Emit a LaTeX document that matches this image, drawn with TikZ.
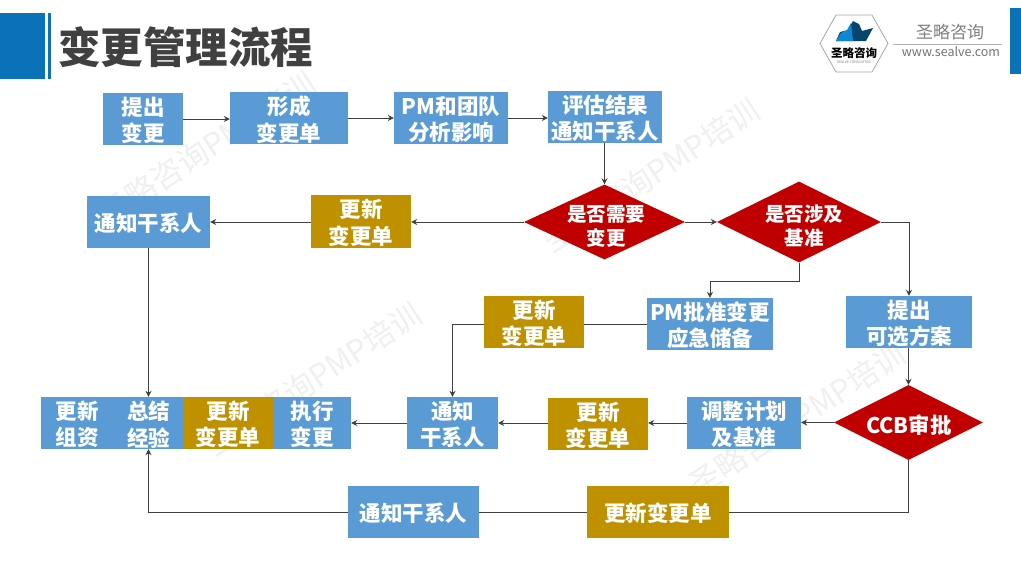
\documentclass[tikz,border=0pt]{standalone}
\usepackage{fontspec}
\setmainfont{Noto Sans CJK SC}
\usetikzlibrary{shapes.geometric,arrows.meta,calc}
\definecolor{bluebox}{HTML}{5B9BD5}
\definecolor{goldbox}{HTML}{BF9000}
\definecolor{redbox}{HTML}{C00000}
\definecolor{headblue}{HTML}{0A73B8}
\definecolor{linegray}{HTML}{404040}
\definecolor{wm}{HTML}{F0F0F0}
\tikzset{
  x=1pt,y=-1pt,
  tx/.style={font=\fontsize{21.5}{26.5}\selectfont\bfseries,text=white,align=center,inner sep=0pt},
  dtx/.style={tx,font=\fontsize{19.5}{24}\selectfont\bfseries},
  bx/.style={rectangle,anchor=center,inner sep=0pt},
  bluebx/.style={bx,fill=bluebox},
  goldbx/.style={bx,fill=goldbox},
  dm/.style={diamond,fill=redbox,inner sep=0pt,anchor=center},
  cn/.style={draw=linegray,line width=0.9pt},
  ar/.style={cn,-{Stealth[length=6pt,width=6pt]}},
  wmk/.style={font=\fontsize{31}{31}\selectfont,text=wm,rotate=33,inner sep=0pt},
}
% the text sits a little below the box centre, as in the reference
\newcommand{\boxat}[7]{% style, name, x0,y0,x1,y1, text
  \node[#1,minimum width=#5pt-#3pt,minimum height=#6pt-#4pt,label={[tx,name=#2t,yshift=-1.5pt]center:{#7}}] (#2) at ({(#3+#5)/2},{(#4+#6)/2}) {};}
\begin{document}
\begin{tikzpicture}
\useasboundingbox (0,0) rectangle (1021,574);
\fill[white] (0,0) rectangle (1021,574);
% watermarks
\node[wmk] (w1) at (207,148) {圣略咨询PMP培训};
\node[wmk] (w2) at (651,175) {圣略咨询PMP培训};
\node[wmk] (w3) at (313,379) {圣略咨询PMP培训};
\node[wmk] (w4) at (797,419) {圣略咨询PMP培训};
% header
\fill[headblue] (0,13) rectangle (45,79);
\fill[headblue] (48,13) rectangle (50.5,79);
\fill[headblue] (1010,8) rectangle (1021,74);
\node[font=\fontsize{42.5}{44}\selectfont\bfseries,text=linegray,inner sep=0pt,anchor=west] (title) at (58,47) {变更管理流程};
% logo
\draw[draw=gray!70,line width=0.8pt,fill=white] (820,43.5) -- (836,15) -- (872,15) -- (888,43.5) -- (872,72) -- (836,72) -- cycle;
\fill[headblue!60!black] (836,41) -- (866,41) -- (873,28) -- (862,31) -- (859,24) -- (853,21) -- (848,30) -- (840,32) -- cycle;
\fill[cyan!70!blue] (836,41) -- (853,41) -- (851,23) -- (847,30) -- (841,33) -- cycle;
\node[font=\fontsize{11.5}{12}\selectfont\bfseries,inner sep=0pt,text=black] (logoa) at (854,53) {圣略咨询};
\node[font=\fontsize{3.5}{4}\selectfont,inner sep=0pt,text=gray] (logob) at (854,62) {SEALVE CONSULTING};
\node[font=\fontsize{17}{18}\selectfont,text=gray,inner sep=0pt] (lg1) at (950,32) {圣略咨询};
\draw[draw=gray!60,line width=0.5pt] (893,44) -- (1002,44);
\node[font=\fontsize{12.5}{14}\selectfont,text=gray!90!black,inner sep=0pt] (lg2) at (951,52) {www.sealve.com};
% top row
\boxat{bluebx}{a1}{103}{93}{183}{145}{提出\\变更}
\boxat{bluebx}{a2}{230}{92}{348}{144}{形成\\变更单}
\boxat{bluebx}{a3}{394}{92}{508}{144}{PM和团队\\分析影响}
\boxat{bluebx}{a4}{548}{91}{662}{143}{评估结果\\通知干系人}
% second row
\node[dm,minimum width=161pt,minimum height=75pt] (d1) at (604.5,222) {};
\node[dtx] (d1t) at (606,226) {是否需要\\变更};
\node[dm,minimum width=164pt,minimum height=81pt] (d2) at (799,222) {};
\node[dtx] (d2t) at (804,226) {是否涉及\\基准};
\boxat{goldbx}{b2}{311}{195}{411}{248}{更新\\变更单}
\boxat{bluebx}{b1}{87}{196}{210}{248}{通知干系人}
% third row
\boxat{bluebx}{c1}{846}{296}{972}{348}{提出\\可选方案}
\boxat{bluebx}{c2}{647}{298}{773}{350}{PM批准变更\\应急储备}
\boxat{goldbx}{c3}{484}{296}{584}{348}{更新\\变更单}
% fourth row
\node[dm,minimum width=149pt,minimum height=75pt] (d3) at (908.5,422.5) {};
\node[tx] (d3t) at (909,425) {CCB审批};
\boxat{bluebx}{e1}{687}{397}{801}{449}{调整计划\\及基准}
\boxat{goldbx}{e2}{548}{398}{648}{450}{更新\\变更单}
\boxat{bluebx}{e3}{407}{397}{498}{449}{通知\\干系人}
\boxat{bluebx}{e4}{273}{397}{351}{449}{执行\\变更}
\boxat{bluebx}{e6}{113}{397}{184}{449}{总结\\经验}
\boxat{goldbx}{e5}{183}{397}{273}{449}{更新\\变更单}
\boxat{bluebx}{e7}{41}{397}{113.5}{449}{更新\\组资}
% bottom row
\boxat{bluebx}{f1}{348}{486}{479}{538}{通知干系人}
\boxat{goldbx}{f2}{587}{486}{729}{538}{更新变更单}
% connectors
\coordinate (c3w) at ($(c3.west)+(0,2)$);
\coordinate (c3e) at ($(c3.east)+(0,2)$);
\draw[ar] (a1.east) -- (a1.east -| a2.west);
\draw[ar] (a2.east) -- (a2.east -| a3.west);
\draw[ar] (a3.east) -- (a3.east -| a4.west);
\draw[ar] (a4.south -| d1) -- (d1.north);
\draw[ar] (d1.east) -- (d2.west);
\draw[ar] (d1.west) -- (b2.east |- d1.west);
\draw[ar] (b2.west |- b1.east) -- (b1.east);
\draw[ar] (b1.south) -- (b1.south |- e6.north);
\draw[ar] (d2.east) -| (c1.north);
\draw[ar] (d2.south) -- ++(0,19) -| (c2.north);
\draw[cn] (c2.west) -- (c3e);
\draw[ar] (c3w) -| (e3.north);
\draw[ar] (c1.south -| d3) -- (d3.north);
\draw[ar] (d3.west) -- (e1.east |- d3.west);
\draw[ar] (e1.west) -- (e2.east |- e1.west);
\draw[ar] (e2.west |- e3.east) -- (e3.east);
\draw[ar] (e3.west) -- (e4.east);
\draw[cn] (d3.south) |- (f2.east);
\draw[cn] (f2.west) -- (f1.east);
\draw[ar] (f1.west) -| (e6.south);
\end{tikzpicture}
\end{document}
